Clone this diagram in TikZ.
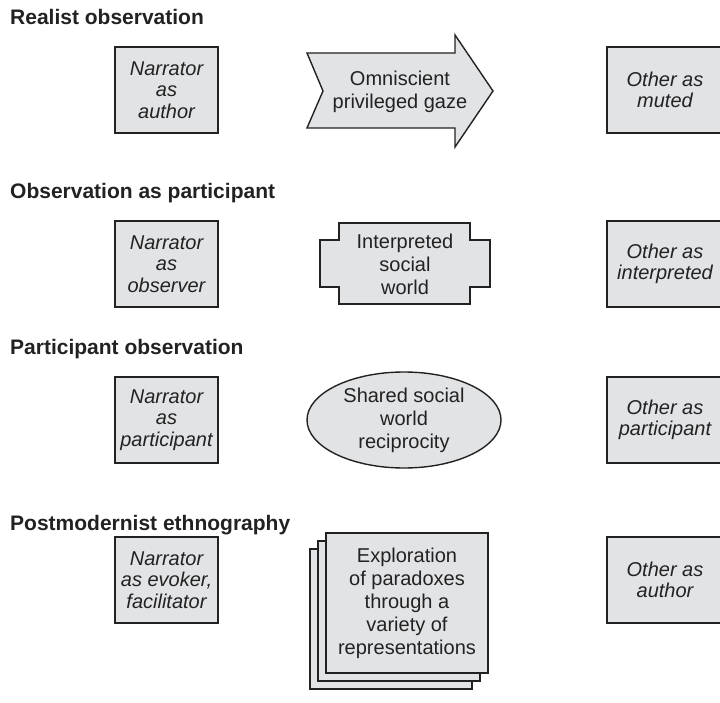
\documentclass[tikz,border=0pt]{standalone}
\usepackage{fontspec}
\setmainfont{Liberation Sans}
\usetikzlibrary{shapes.geometric}
\definecolor{boxfill}{HTML}{E2E3E5}
\definecolor{ink}{HTML}{222222}
\begin{document}
\begin{tikzpicture}[x=1pt,y=-1pt,
  every node/.style={text=ink},
  heading/.style={anchor=west, inner sep=0pt, font=\fontsize{21}{25}\selectfont\bfseries},
  outline/.style={draw=ink, fill=boxfill, line width=1.4pt, line join=miter},
  sidebox/.style={outline, minimum height=86pt, align=center, inner sep=0pt,
    font=\fontsize{20}{21.5}\selectfont\itshape},
  leftbox/.style={sidebox, minimum width=103pt},
  rightbox/.style={sidebox, minimum width=116pt},
  midtext/.style={align=center, inner sep=0pt, font=\fontsize{20}{23}\selectfont},
]
\useasboundingbox (0,0) rectangle (720,703);
\clip (0,0) rectangle (720,703);

% section headings
\node[heading] (h1) at (10,17)  {Realist observation};
\node[heading] (h2) at (10,193) {Observation as participant};
\node[heading] (h3) at (10,349) {Participant observation};
\node[heading] (h4) at (10,525) {Postmodernist ethnography};

% narrator column
\node[leftbox] (n1) at (166.5,90)  {Narrator\\as\\author};
\node[leftbox] (n2) at (166.5,264) {Narrator\\as\\observer};
\node[leftbox] (n3) at (166.5,420) {Narrator\\as\\participant};
\node[leftbox] (n4) at (166.5,580) {Narrator\\as evoker,\\facilitator};

% other column
\node[rightbox] (o1) at (665,90)  {Other as\\muted};
\node[rightbox] (o2) at (665,264) {Other as\\interpreted};
\node[rightbox] (o3) at (665,420) {Other as\\participant};
\node[rightbox] (o4) at (665,580) {Other as\\author};

% block arrow with notched tail
\draw[outline] (307,53) -- (455,53) -- (455,35) -- (493,91) -- (455,147)
  -- (455,128) -- (307,128) -- (323,91) -- cycle;
\node[midtext] (m1) at (400,92) {Omniscient\\privileged gaze};

% stepped frame
\draw[outline] (339,223) -- (470,223) -- (470,240) -- (490,240) -- (490,287)
  -- (470,287) -- (470,304) -- (339,304) -- (339,287) -- (320,287)
  -- (320,240) -- (339,240) -- cycle;
\node[midtext] (m2) at (405,264) {Interpreted\\social\\world};

% ellipse
\node[outline, ellipse, minimum width=194pt, minimum height=96pt,
  midtext] (m3) at (404,420) {Shared social\\world\\reciprocity};

% stack of sheets
\draw[outline] (310,549) rectangle (472,689);
\draw[outline] (318,541) rectangle (480,681);
\draw[outline] (326,533) rectangle (488,673);
\node[midtext] (m4) at (407,603) {Exploration\\of paradoxes\\through a\\variety of\\representations};
\end{tikzpicture}
\end{document}
